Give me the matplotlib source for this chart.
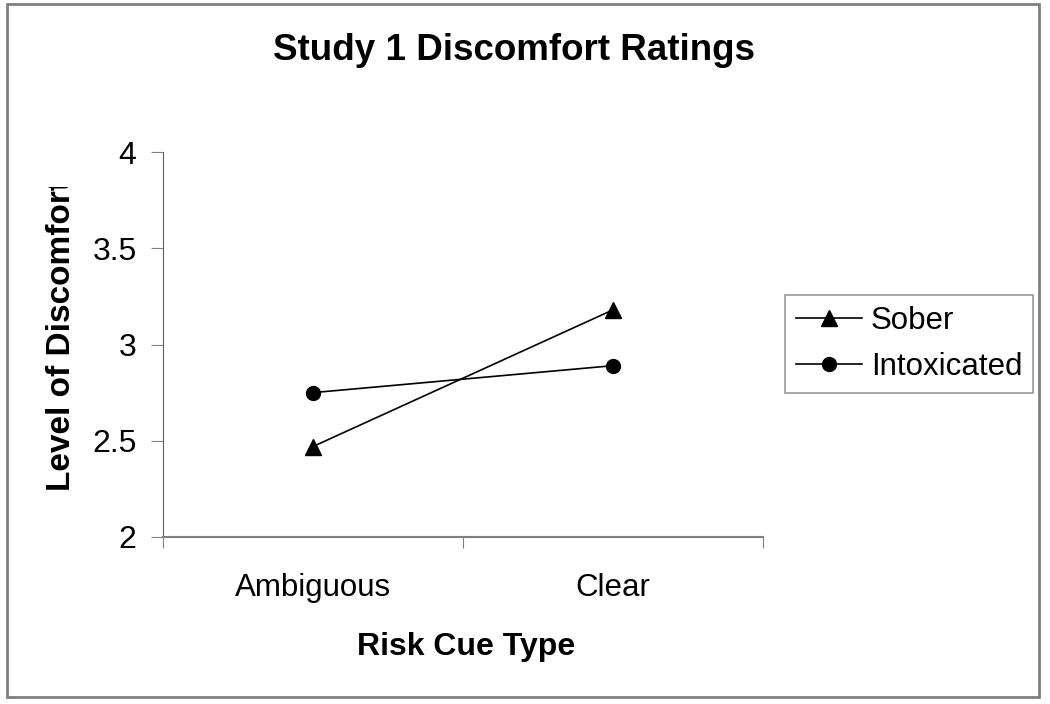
import matplotlib.pyplot as plt
from matplotlib.patches import Rectangle
from matplotlib.transforms import Bbox, TransformedBbox

plt.rcParams['font.family'] = ['Liberation Sans', 'DejaVu Sans']

# data
categories = ["Ambiguous", "Clear"]
sober = [2.47, 3.18]
intoxicated = [2.75, 2.89]
yticks = [2, 2.5, 3, 3.5, 4]
ytick_labels = ["2", "2.5", "3", "3.5", "4"]

W, H = 1050, 704
fig = plt.figure(figsize=(10.5, 7.04), dpi=100)
ax = fig.add_axes([163 / W, 1 - 537 / H, 600 / W, 385 / H])

x = [0.5, 1.5]
ax.plot(x, sober, color="black", linewidth=1.2, marker="^", markersize=12, label="Sober")
ax.plot(x, intoxicated, color="black", linewidth=1.2, marker="o", markersize=10, label="Intoxicated")

ax.set_xlim(0, 2)
ax.set_ylim(2, 4)
ax.set_yticks(yticks)
ax.set_yticklabels(ytick_labels, fontsize=23)
ax.set_xticks([0, 1, 2])
ax.set_xticklabels([])
ax.set_xticks(x, minor=True)
ax.set_xticklabels(categories, minor=True, fontsize=22.5)
ax.tick_params(axis="x", which="minor", length=0, pad=26)
ax.tick_params(axis="x", which="major", length=8, color="#808080", direction="out")
ax.tick_params(axis="y", length=9, color="#808080", direction="out", pad=10)

for s in ["top", "right"]:
    ax.spines[s].set_visible(False)
ax.spines["left"].set_color("#606060")
ax.spines["bottom"].set_color("#808080")
ax.spines["bottom"].set_linewidth(1.5)

fig.text(466 / W, 1 - 647 / H, "Risk Cue Type", fontsize=23, fontweight="bold",
         ha="center", va="center")

# y label, clipped at the top like the original
yl = fig.text(62 / W, 1 - 335 / H, "Level of Discomfort", rotation=90,
              fontsize=24, fontweight="bold", ha="center", va="center")
yl.set_clip_box(TransformedBbox(Bbox([[0, 0], [1, 1 - 187 / H]]), fig.transFigure))
yl.set_clip_on(True)

fig.text(514 / W, 1 - 50 / H, "Study 1 Discomfort Ratings", fontsize=26.5,
         fontweight="bold", ha="center", va="center")

leg = fig.legend(loc="center left", bbox_to_anchor=(785 / W, 1 - 344 / H),
                 fontsize=22.5, frameon=True, fancybox=False, handlelength=2.1,
                 handletextpad=0.3, borderpad=0.35, labelspacing=0.5,
                 borderaxespad=0)
leg.get_frame().set_edgecolor("#808080")
leg.get_frame().set_linewidth(1.2)

# outer border
fig.patches.append(Rectangle((7 / W, 1 - 697 / H), 1032 / W, 693 / H,
                             transform=fig.transFigure, fill=False,
                             edgecolor="#808080", linewidth=2))

plt.savefig("out.png", dpi=100)
